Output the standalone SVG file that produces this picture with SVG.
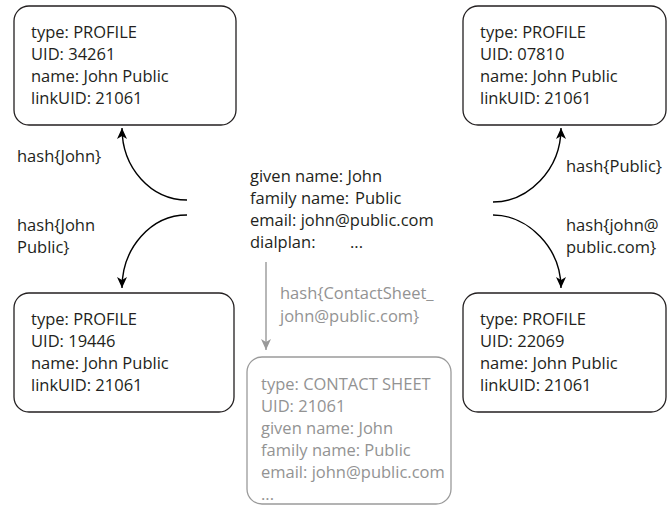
<svg xmlns="http://www.w3.org/2000/svg" width="670" height="506" viewBox="0 0 670 506">
<style>
text{font-family:"Open Sans","Liberation Sans",sans-serif;font-size:16.5px;fill:#231f20}
.box{fill:#fff;stroke:#231f20;stroke-width:1.3}
.gbox{fill:#fff;stroke:#9a9a9a;stroke-width:1.3}
.g{fill:#939393}
.c{fill:none;stroke:#000;stroke-width:1.4}
.gc{fill:none;stroke:#999;stroke-width:1.4}
</style>
<defs>
<marker id="ah" markerUnits="userSpaceOnUse" markerWidth="14" markerHeight="14" viewBox="-12 -6 14 12" refX="0" refY="0" orient="auto">
<path d="M0,0 L-11,-5 L-8,0 L-11,5 Z" fill="#000"/>
</marker>
<marker id="gah" markerUnits="userSpaceOnUse" markerWidth="14" markerHeight="14" viewBox="-12 -6 14 12" refX="0" refY="0" orient="auto">
<path d="M0,0 L-11,-5 L-8,0 L-11,5 Z" fill="#999"/>
</marker>
</defs>
<g id="connectors">
<path class="c" d="M187,200 C151,200 122,168 122,128" marker-end="url(#ah)"/>
<path class="c" d="M187,215 C151,215 122,248 122,288" marker-end="url(#ah)"/>
<path class="c" d="M493,202 C528,202 561,170 561,128" marker-end="url(#ah)"/>
<path class="c" d="M493,215 C528,215 561,248 561,288" marker-end="url(#ah)"/>
<path class="gc" d="M266,262 L266,350" marker-end="url(#gah)"/>
<text x="17" y="162">hash{John}</text>
<text x="17" y="231">hash{John</text>
<text x="17" y="253">Public}</text>
<text x="566" y="172">hash{Public}</text>
<text x="566" y="231">hash{john@</text>
<text x="566" y="253">public.com}</text>
<text class="g" x="280" y="299">hash{ContactSheet_</text>
<text class="g" x="280" y="322">john@public.com}</text>
</g>
<g id="profile-34261">
<rect class="box" x="14" y="6" width="222" height="119" rx="15"/>
<text x="31" y="38">type: PROFILE</text>
<text x="31" y="60">UID: 34261</text>
<text x="31" y="82">name: John Public</text>
<text x="31" y="104">linkUID: 21061</text>
</g>
<g id="profile-07810">
<rect class="box" x="463" y="6" width="203" height="119" rx="15"/>
<text x="480" y="38">type: PROFILE</text>
<text x="480" y="60">UID: 07810</text>
<text x="480" y="82">name: John Public</text>
<text x="480" y="104">linkUID: 21061</text>
</g>
<g id="profile-19446">
<rect class="box" x="14" y="293" width="220" height="119" rx="15"/>
<text x="31" y="325">type: PROFILE</text>
<text x="31" y="347">UID: 19446</text>
<text x="31" y="369">name: John Public</text>
<text x="31" y="391">linkUID: 21061</text>
</g>
<g id="profile-22069">
<rect class="box" x="463" y="293" width="203" height="119" rx="15"/>
<text x="480" y="325">type: PROFILE</text>
<text x="480" y="347">UID: 22069</text>
<text x="480" y="369">name: John Public</text>
<text x="480" y="391">linkUID: 21061</text>
</g>
<g id="contact-input">
<text x="250" y="182">given name: John</text>
<text x="250" y="204">family name: <tspan x="355">Public</tspan></text>
<text x="250" y="226">email: john@public.com</text>
<text x="250" y="248">dialplan: <tspan x="350">...</tspan></text>
</g>
<g id="contact-sheet">
<rect class="gbox" x="247" y="357" width="204" height="147" rx="15"/>
<text class="g" x="261" y="390">type: CONTACT SHEET</text>
<text class="g" x="261" y="412">UID: 21061</text>
<text class="g" x="261" y="434">given name: John</text>
<text class="g" x="261" y="456">family name: Public</text>
<text class="g" x="261" y="478">email: john@public.com</text>
<text class="g" x="261" y="500">...</text>
</g>
</svg>
